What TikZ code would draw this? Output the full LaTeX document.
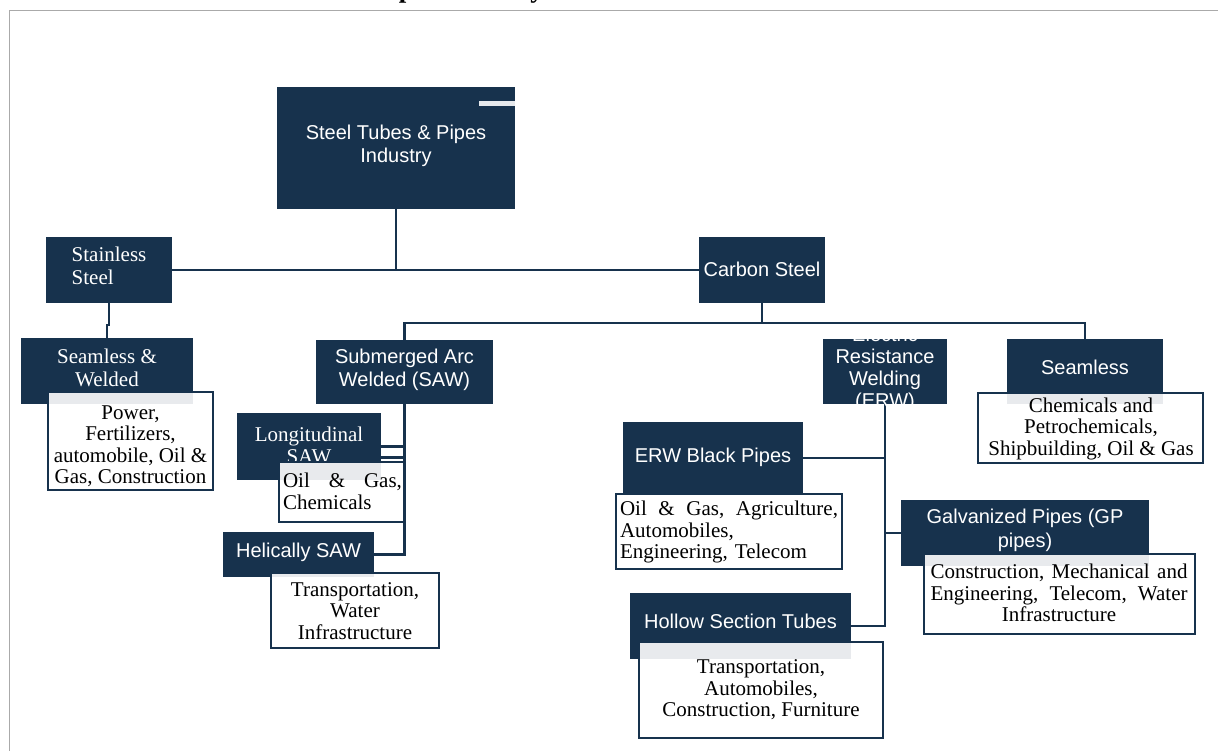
\documentclass[tikz,border=0pt]{standalone}
\usepackage{fontspec}
\setmainfont{Liberation Serif}
\setsansfont{Liberation Sans}
\usetikzlibrary{backgrounds}
\definecolor{navy}{RGB}{23,50,77}
\definecolor{framegray}{RGB}{170,170,170}
\definecolor{barlight}{RGB}{229,232,236}
\begin{document}
\begin{tikzpicture}[x=1pt,y=-1pt,
  darkbox/.style={fill=navy, draw=none, inner sep=0},
  descbox/.style={draw=navy, line width=2pt, fill=white, fill opacity=0.9, inner sep=0},
  link/.style={draw=navy, line width=2.2pt},
  wsans/.style={text=white, font=\sffamily\fontsize{20}{22.5}\selectfont, align=center, inner sep=0},
  wserif/.style={text=white, font=\rmfamily\fontsize{21}{23}\selectfont, align=center, inner sep=0},
  bserif/.style={text=black, font=\rmfamily\fontsize{21}{21.5}\selectfont, align=center, inner sep=0}]
\useasboundingbox (0,0) rectangle (1218,751);
\node[anchor=base west, inner sep=0, font=\rmfamily\bfseries\fontsize{27}{30}\selectfont] (title) at (18,-2.5) {Chart 1: Indian Steel Tubes \& Pipes Industry};
\draw[framegray, line width=1.5pt] (9.5,751) -- (9.5,10.5) -- (1218,10.5);

% dark boxes
\node[darkbox, minimum width=238, minimum height=122] (root) at (396,148) {};
\node[fill=barlight, inner sep=0, minimum width=36, minimum height=5] (rootbar) at (497,103.5) {};
\node[darkbox, minimum width=126, minimum height=66] (stain) at (109,270) {};
\node[darkbox, minimum width=126, minimum height=66] (carbon) at (762,270) {};
\node[darkbox, minimum width=172, minimum height=66] (sw) at (107,371) {};
\node[darkbox, minimum width=177, minimum height=64] (saw) at (404.5,372) {};
\node[darkbox, minimum width=124, minimum height=65] (erw) at (885,371.5) {};
\node[darkbox, minimum width=156, minimum height=65] (seam) at (1085,371.5) {};
\node[darkbox, minimum width=144, minimum height=67] (long) at (309,446.5) {};
\node[darkbox, minimum width=151, minimum height=45] (helic) at (298.5,554.5) {};
\node[darkbox, minimum width=180, minimum height=72] (black) at (713,458) {};
\node[darkbox, minimum width=248, minimum height=66] (galv) at (1025,533) {};
\node[darkbox, minimum width=221, minimum height=66] (hollow) at (740.5,626) {};

% connectors
\begin{scope}[on background layer]
\draw[link] (root.south) -- (root.south |- stain.east);
\draw[link] (stain.east) -- (carbon.west);
\coordinate (cbus) at (762,323);
\draw[link] (carbon.south) -- (cbus);
\draw[link] (saw.north) |- (cbus) -| (seam.north);
\draw[link] (stain.south) -- ++(0,22) -| (sw.north);
\draw[link] (saw.south) |- (helic.east);
\draw[link] (long.east) -- (long.east -| saw.south);
\coordinate (lj) at (381,457.5);
\draw[link] (lj) -- (lj -| saw.south);
\draw[link] (erw.south) |- (hollow.east);
\draw[link] (black.east) -- (black.east -| erw.south);
\draw[link] (galv.west) -- (galv.west -| erw.south);
\end{scope}

% texts in dark boxes
\node[wsans] (rootT) at (396,146) {Steel Tubes \& Pipes\\Industry};
\node[wserif, align=left] (stainT) at (109,266) {Stainless\\Steel};
\node[wsans] (carbonT) at (762,269) {Carbon Steel};
\node[wserif] (swT) at (107,367.5) {Seamless \&\\Welded};
\node[wsans] (sawT) at (404.5,370) {Submerged Arc\\Welded (SAW)};
\node[wsans, font=\sffamily\fontsize{20}{22}\selectfont] (erwT) at (885,369) {Electric\\Resistance\\Welding\\(ERW)};
\node[wsans] (seamT) at (1085,367) {Seamless};
\node[wserif, font=\rmfamily\fontsize{21}{22}\selectfont] (longT) at (309,445) {Longitudinal\\SAW};
\node[wsans] (helicT) at (298.5,552) {Helically SAW};
\node[wsans] (blackT) at (713,457) {ERW Black Pipes};
\node[wsans, font=\sffamily\fontsize{20}{24}\selectfont] (galvT) at (1025,530) {Galvanized Pipes (GP\\pipes)};
\node[wsans] (hollowT) at (740.5,621) {Hollow Section Tubes};

% description boxes
\node[descbox, minimum width=165, minimum height=98] (swd) at (130.5,441) {};
\node[descbox, minimum width=125, minimum height=60] (lsd) at (341.5,492) {};
\node[descbox, minimum width=168, minimum height=75] (hsd) at (355,610.5) {};
\node[descbox, minimum width=226, minimum height=75] (bpd) at (729,531.5) {};
\node[descbox, minimum width=271, minimum height=80] (galvd) at (1059.5,594) {};
\node[descbox, minimum width=244, minimum height=96] (hold) at (761,690) {};
\node[descbox, minimum width=225, minimum height=70] (seamd) at (1090.5,428) {};

\node[bserif] (swdT) at (130.5,446) {Power,\\Fertilizers,\\automobile, Oil \&\\Gas, Construction};
\node[bserif, text width=119, align=left] (lsdT) at (342.5,491.5) {Oil\hfill\&\hfill Gas,\\Chemicals};
\node[bserif] (hsdT) at (355,611) {Transportation,\\Water\\Infrastructure};
\node[bserif, text width=218, align=left] (bpdT) at (729,532) {Oil\hfill\&\hfill Gas,\hfill Agriculture,\\Automobiles,\\Engineering, Telecom};
\node[bserif, text width=257, align=center] (galvdT) at (1059,593) {Construction,\hfill Mechanical\hfill and\\Engineering,\hfill Telecom,\hfill Water\\Infrastructure};
\node[bserif] (holdT) at (761,690) {Transportation,\\Automobiles,\\Construction, Furniture};
\node[bserif] (seamdT) at (1091,428.5) {Chemicals and\\Petrochemicals,\\Shipbuilding, Oil \& Gas};
\end{tikzpicture}
\end{document}
